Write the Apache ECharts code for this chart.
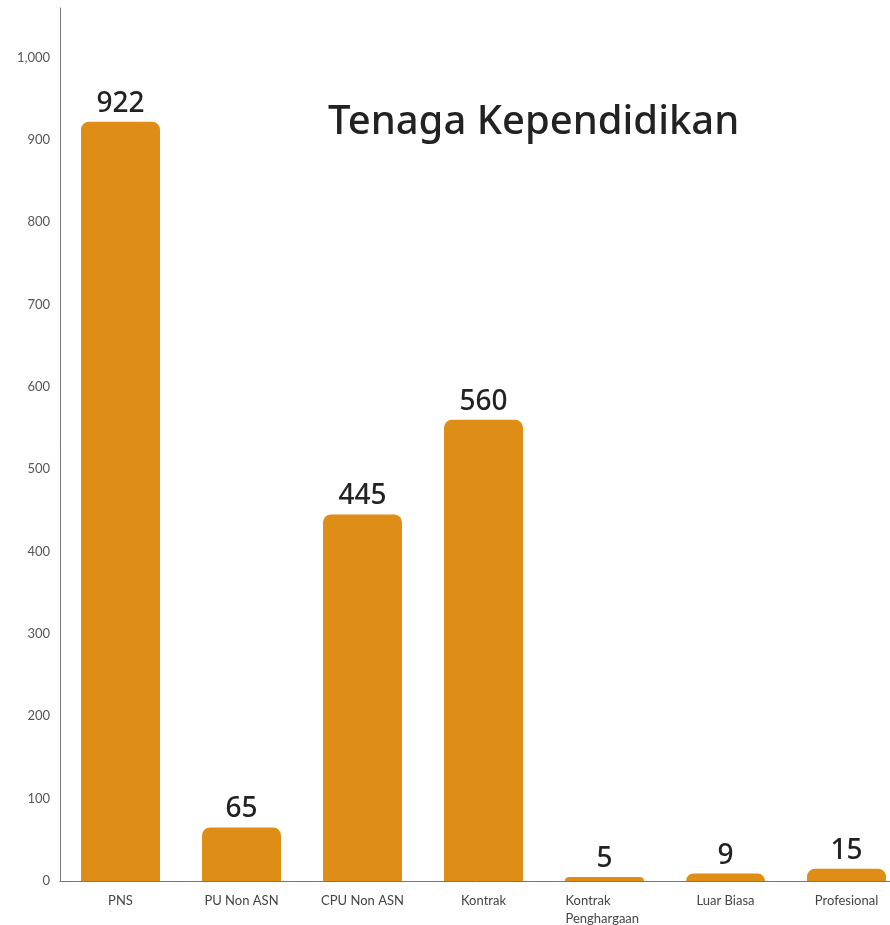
<!DOCTYPE html>
<html>
<head>
<meta charset="utf-8">
<script src="https://cdn.jsdelivr.net/npm/echarts@6/dist/echarts.min.js"></script>
<style>
  html, body { margin: 0; padding: 0; background: #fff; }
  #chart { width: 890px; height: 925px; }
</style>
</head>
<body>
<div id="chart"></div>
<script>
// data
const categories = ['PNS', 'PU Non ASN', 'CPU Non ASN', 'Kontrak', 'Kontrak\nPenghargaan', 'Luar Biasa', 'Profesional'];
const values = [922, 65, 445, 560, 5, 9, 15];
const titleText = 'Tenaga Kependidikan';

const chart = echarts.init(document.getElementById('chart'));

const option = {
  animation: false,
  title: {
    text: titleText,
    left: 323,
    top: 98,
    textStyle: {
      fontFamily: 'Noto Sans',
      fontSize: 40,
      fontWeight: 500,
      color: '#222'
    }
  },
  grid: {
    left: 60,
    width: 847,
    top: 8,
    bottom: 44,
    containLabel: false,
    outerBoundsMode: 'none'
  },
  xAxis: {
    type: 'category',
    data: categories,
    axisLine: { lineStyle: { color: '#777', width: 1 } },
    axisTick: { show: false },
    axisLabel: {
      margin: 11,
      interval: 0,
      fontFamily: 'Lato',
      fontSize: 13,
      color: '#444',
      lineHeight: 18,
      formatter: function (v) {
        // multi-line label: lines left-aligned inside a centered block
        if (v.indexOf('\n') >= 0) {
          return v.split('\n').map(s => '{a|' + s + '}').join('\n');
        }
        return v;
      },
      rich: {
        a: { width: 78, align: 'left', fontFamily: 'Lato', fontSize: 13, color: '#444', lineHeight: 18 }
      }
    }
  },
  yAxis: {
    type: 'value',
    min: 0,
    max: 1060,
    interval: 100,
    splitLine: { show: false },
    axisLine: { show: true, lineStyle: { color: '#777', width: 1 } },
    axisTick: { show: false },
    axisLabel: {
      margin: 10,
      fontFamily: 'Lato',
      fontSize: 13,
      color: '#555',
      showMaxLabel: false,
      formatter: function (v) {
        return v % 100 === 0 ? echarts.format.addCommas(v) : '';
      }
    }
  },
  series: [
    {
      type: 'bar',
      data: values,
      barWidth: 79,
      itemStyle: {
        color: '#DE8E17',
        borderRadius: [8, 8, 0, 0]
      },
      label: {
        show: true,
        position: 'top',
        distance: 4,
        fontFamily: 'Noto Sans',
        fontSize: 28,
        fontWeight: 500,
        color: '#222'
      }
    }
  ]
};

chart.setOption(option);
</script>
</body>
</html>
